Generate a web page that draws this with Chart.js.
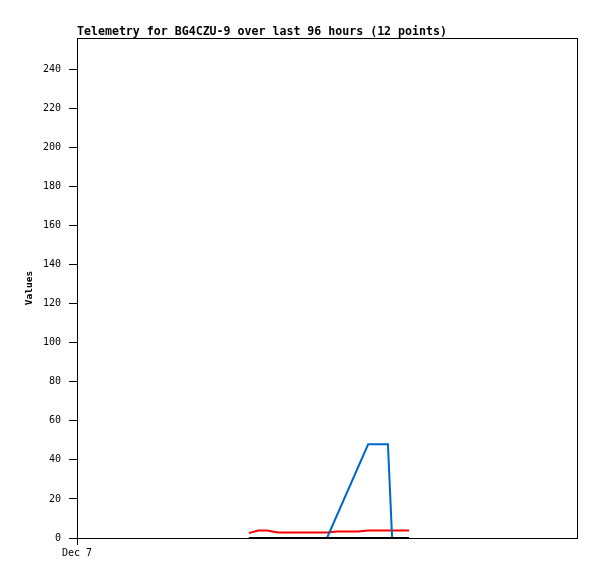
<!DOCTYPE html>
<html>
<head>
<meta charset="utf-8">
<script src="https://cdn.jsdelivr.net/npm/chart.js@4/dist/chart.umd.min.js"></script>
<style>
  html, body { margin: 0; padding: 0; background: #fff; }
  #wrap { width: 597px; height: 579px; }
</style>
</head>
<body>
<div id="wrap"><canvas id="telemetryChart" width="597" height="579"></canvas></div>
<script>
// hours since start of the 96h window (Dec 7 00:00)
const hours = [33.0, 34.75, 36.5, 38.6, 48.0, 49.9, 54.0, 55.9, 59.7, 60.5, 62.0, 63.75];

const blackValues = [0, 0, 0, 0, 0, 0, 0, 0, 0, 0, 0, 0];
const blueValues  = [0, 0, 0, 0, 0, null, null, 48, 48, 0, 0, 0];
const redValues   = [2.5, 3.8, 3.8, 2.8, 2.8, 3.3, 3.3, 3.8, 3.8, 3.8, 3.8, 3.8];

const xTickValues = [0];
const xTickLabels = ['Dec 7'];
const yTickValues = [0, 20, 40, 60, 80, 100, 120, 140, 160, 180, 200, 220, 240];

const titleText = 'Telemetry for BG4CZU-9 over last 96 hours (12 points)';

const toPoints = vals => vals.map((v, i) => ({ x: hours[i], y: v }));

// frame around plot area + title at its top-left
const framePlugin = {
  id: 'frame',
  afterDraw(chart) {
    const { ctx, chartArea } = chart;
    ctx.save();
    ctx.strokeStyle = '#000';
    ctx.lineWidth = 1;
    ctx.strokeRect(chartArea.left + 0.5, chartArea.top + 0.5,
      chartArea.right - chartArea.left, chartArea.bottom - chartArea.top);
    ctx.fillStyle = '#000';
    ctx.font = 'bold 11.6px "DejaVu Sans Mono"';
    ctx.textBaseline = 'alphabetic';
    ctx.textAlign = 'left';
    ctx.fillText(titleText, chartArea.left, chartArea.top - 3);
    ctx.restore();
  }
};

const lineStyle = { borderWidth: 2, pointRadius: 0, tension: 0, fill: false };

new Chart(document.getElementById('telemetryChart'), {
  type: 'line',
  data: {
    datasets: [
      { label: 'black', data: toPoints(blackValues), borderColor: '#000000', ...lineStyle },
      { label: 'blue', data: toPoints(blueValues), borderColor: '#0066cc', spanGaps: true, ...lineStyle },
      { label: 'red', data: toPoints(redValues), borderColor: '#ff0000', ...lineStyle }
    ]
  },
  options: {
    responsive: false,
    animation: false,
    layout: { padding: { left: 0, top: 38, right: 20, bottom: 0 } },
    plugins: { legend: { display: false }, title: { display: false }, tooltip: { enabled: false } },
    scales: {
      x: {
        type: 'linear',
        min: 0,
        max: 96,
        afterBuildTicks: s => { s.ticks = xTickValues.map(v => ({ value: v })); },
        afterFit: s => { s.height = 41; },
        border: { display: false },
        grid: { display: true, drawOnChartArea: false, drawTicks: true, tickLength: 7, color: '#000' },
        ticks: {
          color: '#000',
          padding: 2,
          maxRotation: 0,
          font: { family: '"DejaVu Sans Mono"', size: 10 },
          callback: (v) => xTickLabels[xTickValues.indexOf(v)] ?? ''
        }
      },
      y: {
        min: 0,
        max: 256,
        afterBuildTicks: s => { s.ticks = yTickValues.map(v => ({ value: v })); },
        afterFit: s => { s.width = 77; },
        border: { display: false },
        grid: { display: true, drawOnChartArea: false, drawTicks: true, tickLength: 8, color: '#000' },
        ticks: {
          color: '#000',
          padding: 8,
          font: { family: '"DejaVu Sans Mono"', size: 10 }
        },
        title: {
          display: true,
          text: 'Values',
          color: '#000',
          padding: { top: 24, bottom: 0 },
          font: { family: '"DejaVu Sans Mono"', size: 9.5, weight: 'bold' }
        }
      }
    }
  },
  plugins: [framePlugin]
});
</script>
</body>
</html>
